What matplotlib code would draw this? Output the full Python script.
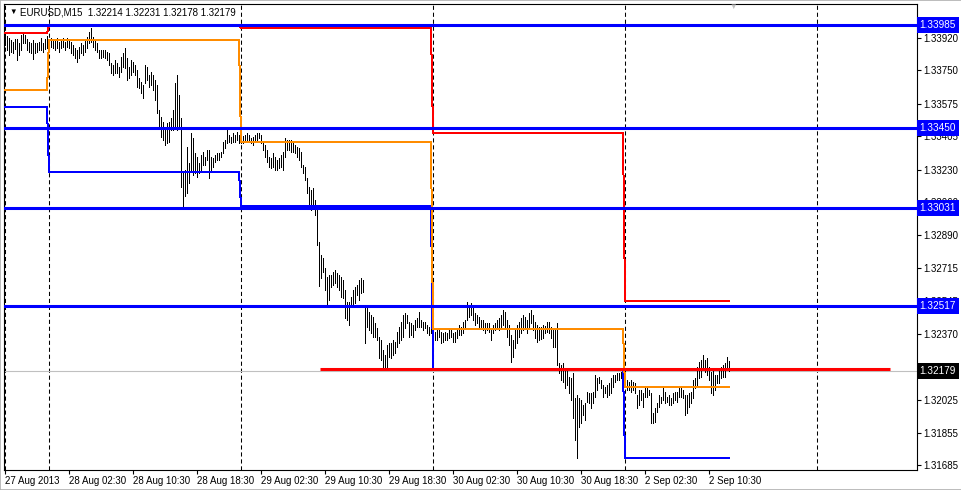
import numpy as np
import matplotlib
matplotlib.use("Agg")
import matplotlib.pyplot as plt
from matplotlib import transforms

plt.rcParams['font.family'] = ['Liberation Sans', 'DejaVu Sans']

# EURUSD M15 bars, first bar = 27 Aug 2013 18:30
# prices in points above 1.30000 (1 point = 0.00001)
high_pts = [
    3934, 3929, 3918, 3908, 3897, 3913, 3913, 3892, 3934, 3944, 3934, 3913, 3897, 3892, 3908, 3892, 3892, 3897, 3918, 3892, 3913, 3929,
    # 28 Aug
    3908, 3918, 3908, 3913, 3918, 3897, 3908, 3918, 3897, 3918, 3908, 3897, 3882, 3866, 3856, 3871, 3892, 3882, 3908, 3923, 3950, 3971, 3923, 3908,
    3892, 3856, 3856, 3856, 3856, 3845, 3840, 3788, 3777, 3803, 3788, 3767, 3819, 3840, 3866, 3814, 3767, 3803, 3793, 3777, 3751, 3709, 3688, 3672,
    3777, 3767, 3725, 3740, 3725, 3699, 3672, 3542, 3505, 3479, 3453, 3474, 3479, 3500, 3542, 3683, 3725, 3620, 3500, 3212, 3228, 3348, 3264, 3421,
    3395, 3317, 3296, 3264, 3306, 3322, 3296, 3333, 3333, 3296, 3291, 3306, 3317, 3317, 3322, 3374, 3385, 3448, 3411, 3400, 3421, 3411, 3427, 3411,
    # 29 Aug
    3400, 3406, 3411, 3421, 3411, 3395, 3400, 3411, 3421, 3421, 3411, 3374, 3359, 3333, 3296, 3291, 3317, 3296, 3280, 3291, 3306, 3322, 3395, 3385,
    3385, 3385, 3374, 3359, 3348, 3343, 3322, 3254, 3244, 3186, 3139, 3123, 3134, 3071, 3045, 2851, 2783, 2768, 2715, 2668, 2679, 2679, 2694, 2705,
    2689, 2679, 2668, 2653, 2600, 2538, 2538, 2564, 2600, 2616, 2626, 2653, 2663, 2653, 2511, 2506, 2485, 2470, 2459, 2428, 2402, 2355, 2339, 2287,
    2260, 2313, 2323, 2323, 2339, 2328, 2381, 2407, 2433, 2470, 2480, 2470, 2433, 2428, 2417, 2443, 2454, 2485, 2443, 2433, 2433, 2417, 2407, 2402,
    # 30 Aug
    2402, 2381, 2391, 2402, 2381, 2375, 2381, 2375, 2391, 2402, 2375, 2381, 2402, 2417, 2407, 2433, 2443, 2538, 2522, 2532, 2511, 2480, 2470, 2459,
    2443, 2443, 2428, 2428, 2428, 2402, 2417, 2428, 2443, 2454, 2470, 2496, 2485, 2443, 2417, 2365, 2339, 2391, 2417, 2433, 2454, 2470, 2459, 2443,
    2480, 2496, 2470, 2433, 2417, 2407, 2407, 2417, 2412, 2433, 2433, 2407, 2402, 2391, 2428, 2219, 2208, 2219, 2192, 2182, 2145, 2140, 2166, 2035,
    2051, 2035, 2025, 1999, 2009, 2067, 2062, 2062, 2067, 2156, 2140, 2145, 2130, 2103, 2093, 2103, 2114, 2140, 2156, 2156, 2166, 2166, 2171, 2219,
    # 2 Sep
    2182, 2130, 2119, 2130, 2119, 2114, 2051, 2077, 2077, 2062, 2088, 2093, 2077, 2062, 1957, 1983, 2009, 2051, 2041, 2093, 2067, 2041, 2051, 2035,
    2062, 2067, 2067, 2093, 2093, 2077, 2051, 2051, 2062, 2067, 2130, 2140, 2198, 2224, 2234, 2260, 2234, 2245, 2198, 2171, 2182, 2156, 2156, 2182,
    2198, 2208, 2219, 2250, 2231,
]
low_pts = [
    3882, 3856, 3829, 3845, 3840, 3861, 3803, 3829, 3856, 3892, 3892, 3856, 3845, 3840, 3809, 3840, 3845, 3856, 3856, 3845, 3861, 3866,
    # 28 Aug
    3856, 3871, 3866, 3856, 3866, 3845, 3866, 3871, 3856, 3871, 3866, 3840, 3829, 3814, 3793, 3814, 3840, 3829, 3845, 3866, 3892, 3897, 3871, 3856,
    3845, 3814, 3814, 3819, 3814, 3803, 3777, 3735, 3725, 3735, 3735, 3714, 3740, 3767, 3761, 3699, 3709, 3725, 3740, 3725, 3662, 3657, 3631, 3604,
    3683, 3699, 3662, 3672, 3646, 3594, 3526, 3448, 3400, 3385, 3359, 3369, 3374, 3437, 3437, 3453, 3437, 3448, 3139, 3040, 3092, 3108, 3160, 3228,
    3202, 3212, 3191, 3212, 3228, 3254, 3254, 3280, 3186, 3228, 3244, 3270, 3280, 3280, 3296, 3317, 3343, 3369, 3374, 3369, 3374, 3374, 3385, 3369,
    # 29 Aug
    3369, 3369, 3374, 3385, 3374, 3369, 3359, 3374, 3385, 3395, 3369, 3333, 3296, 3270, 3244, 3238, 3244, 3228, 3228, 3238, 3244, 3228, 3296, 3333,
    3333, 3322, 3322, 3317, 3296, 3280, 3244, 3212, 3176, 3108, 3034, 3019, 3045, 2993, 2836, 2621, 2663, 2694, 2600, 2522, 2548, 2616, 2626, 2637,
    2616, 2600, 2564, 2558, 2454, 2443, 2417, 2511, 2511, 2532, 2574, 2548, 2585, 2590, 2323, 2407, 2391, 2375, 2355, 2355, 2339, 2245, 2234, 2198,
    2198, 2192, 2250, 2245, 2260, 2271, 2302, 2323, 2339, 2355, 2402, 2428, 2355, 2365, 2355, 2391, 2407, 2407, 2407, 2391, 2402, 2375, 2365, 2375,
    # 30 Aug
    2323, 2339, 2339, 2355, 2323, 2328, 2339, 2339, 2349, 2355, 2328, 2328, 2349, 2365, 2365, 2375, 2402, 2443, 2459, 2470, 2443, 2417, 2428, 2407,
    2402, 2391, 2375, 2391, 2381, 2339, 2375, 2391, 2407, 2391, 2402, 2417, 2407, 2355, 2313, 2224, 2250, 2297, 2323, 2355, 2375, 2391, 2402, 2375,
    2407, 2428, 2391, 2349, 2328, 2339, 2344, 2349, 2375, 2381, 2375, 2349, 2302, 2302, 2208, 2166, 2130, 2119, 2088, 2103, 2062, 2025, 1931, 1816,
    1722, 1884, 1905, 1947, 1920, 2015, 2009, 1983, 2009, 2041, 2077, 2114, 2088, 2041, 2062, 2041, 2051, 2062, 2093, 2119, 2130, 2130, 2140, 2156,
    # 2 Sep
    2114, 2077, 2077, 2067, 2077, 2062, 1983, 1999, 2025, 1988, 2041, 2041, 2051, 1905, 1905, 1910, 1962, 1988, 2009, 2025, 2009, 2015, 1999, 1999,
    2009, 2025, 2015, 2041, 2041, 2035, 1947, 1957, 1988, 2009, 2035, 2088, 2103, 2140, 2145, 2192, 2171, 2156, 2130, 2062, 2051, 2077, 2114, 2114,
    2140, 2145, 2145, 2182, 2178,
]

# daily indicator levels (bar index where each day starts)
day_start = [0, 22, 118, 214, 310, 406]
red_levels = [1.33944, 1.33982, 1.33971, 1.33421, 1.32543]
orange_levels = [1.33646, 1.33908, 1.33374, 1.32396, 1.32093]
blue_levels = [1.33557, 1.33217, 1.33040, 1.32187, 1.31722]

# horizontal lines
support_levels = [1.33985, 1.33450, 1.33031, 1.32517]
bid = 1.32179
trend_level = 1.32187
trend_from, trend_to = 157.5, 442.5

ytick_vals = [1.33920, 1.33750, 1.33575, 1.33405, 1.33230, 1.33060, 1.32890,
              1.32715, 1.32545, 1.32370, 1.32200, 1.32025, 1.31855, 1.31685]
xtick_pos = [0, 32, 64, 96, 128, 160, 192, 224, 256, 288, 320, 352]
xtick_labels = ["27 Aug 2013", "28 Aug 02:30", "28 Aug 10:30", "28 Aug 18:30",
                "29 Aug 02:30", "29 Aug 10:30", "29 Aug 18:30", "30 Aug 02:30",
                "30 Aug 10:30", "30 Aug 18:30", "2 Sep 02:30", "2 Sep 10:30"]

highs = 1.3 + np.array(high_pts) / 1e5
lows = 1.3 + np.array(low_pts) / 1e5
idx = np.arange(len(highs))

fig = plt.figure(figsize=(9.62, 4.90), dpi=100)
ax = fig.add_axes([4 / 962, 20 / 490, 913 / 962, 466 / 490])

# day separators
for d in day_start:
    ax.axvline(d, color="black", lw=0.75, ls=(0, (4, 2.7)), zorder=1)

ax.axhline(bid, color="#c0c0c0", lw=0.8, zorder=2)

ax.vlines(idx, lows, highs, color="black", lw=0.72, antialiased=False, zorder=3)

# daily step lines
counts = np.diff(day_start[:-1] + [len(idx)])
for levels, col in [(blue_levels, "#0000ff"), (orange_levels, "#ff8c00"), (red_levels, "#ff0000")]:
    ax.plot(idx, np.repeat(levels, counts), color=col, lw=0.72, antialiased=False, zorder=4)

for lvl in support_levels:
    ax.axhline(lvl, color="#0000ff", lw=2.2, zorder=5)

ax.plot([trend_from, trend_to], [trend_level, trend_level], color="#ff0000", lw=2.2,
        solid_capstyle="butt", zorder=6)

ax.set_xlim(-0.5, 456)
ax.set_ylim(1.31659, 1.34096)

ax.yaxis.tick_right()
ax.set_yticks(ytick_vals)
ax.set_yticklabels([f"{v:.5f}" for v in ytick_vals])
ax.tick_params(axis="y", direction="out", length=3, width=0.8, labelsize=7, pad=1.5)
ax.set_xticks(xtick_pos)
ax.set_xticklabels(xtick_labels, ha="left")
ax.tick_params(axis="x", direction="out", length=3, width=0.8, labelsize=7, pad=1.5)
for sp in ax.spines.values():
    sp.set_linewidth(0.8)

# price labels on the right axis
trans = transforms.blended_transform_factory(ax.transAxes, ax.transData)
box_kw = dict(boxstyle="square,pad=0.3", ec="none")
for lvl in support_levels:
    ax.text(1.003, lvl, f"{lvl:.5f}", transform=trans, ha="left", va="center",
            color="white", fontsize=7.2, clip_on=False, zorder=10,
            bbox=dict(fc="#0000ff", **box_kw))
ax.text(1.003, bid, f"{bid:.5f}", transform=trans, ha="left", va="center",
        color="white", fontsize=7.2, clip_on=False, zorder=10,
        bbox=dict(fc="black", **box_kw))

# header
ax.text(5 / 913, 1 - 8.5 / 466, "\u25bc", transform=ax.transAxes, fontsize=5.5,
        va="center", ha="left")
ax.text(16 / 913, 1 - 8.5 / 466, "EURUSD,M15  1.32214 1.32231 1.32178 1.32179",
        transform=ax.transAxes, fontsize=7, va="center", ha="left")
shift = transforms.blended_transform_factory(ax.transData, ax.transAxes)
ax.text(364, 1 - 3 / 466, "\u25bc", transform=shift, fontsize=5.5, color="#c0c0c0",
        va="center", ha="center")

fig.add_artist(plt.Rectangle((0, 0), 1, 1, transform=fig.transFigure, fill=False,
                             ec="#b0b0b0", lw=1.2))

fig.savefig("out.png", dpi=100)
